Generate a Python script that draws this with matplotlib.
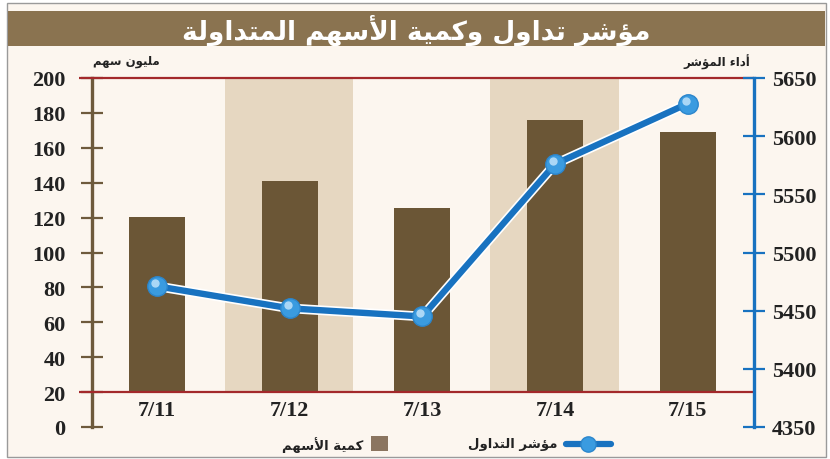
import numpy as np
import matplotlib.pyplot as plt
import matplotlib.patheffects as pe
import matplotlib.transforms as mtransforms
from matplotlib.patches import Rectangle
from matplotlib.lines import Line2D

# data
days = ['7/11', '7/12', '7/13', '7/14', '7/15']
volume = [120.5, 141, 125.5, 176, 169]          # million shares (left axis)
index_val = [5471, 5452, 5445, 5576, 5628]      # index level (right axis)
left_ticks = [0, 20, 40, 60, 80, 100, 120, 140, 160, 180, 200]
right_ticks = [5350, 5400, 5450, 5500, 5550, 5600, 5650]
right_labels = ['4350', '5400', '5450', '5500', '5550', '5600', '5650']

title = 'مؤشر تداول وكمية الأسهم المتداولة'
left_unit = 'مليون سهم'
right_unit = 'أداء المؤشر'
leg_line = 'مؤشر التداول'
leg_bar = 'كمية الأسهم'

# minimal arabic shaping (matplotlib has no text shaping)
FORMS = {
    'ا': ('\uFE8D', '\uFE8E', None, None),
    'أ': ('\uFE83', '\uFE84', None, None),
    'ؤ': ('\uFE85', '\uFE86', None, None),
    'ء': ('\uFE80', None, None, None),
    'ت': ('\uFE95', '\uFE96', '\uFE97', '\uFE98'),
    'ة': ('\uFE93', '\uFE94', None, None),
    'د': ('\uFEA9', '\uFEAA', None, None),
    'ر': ('\uFEAD', '\uFEAE', None, None),
    'س': ('\uFEB1', '\uFEB2', '\uFEB3', '\uFEB4'),
    'ش': ('\uFEB5', '\uFEB6', '\uFEB7', '\uFEB8'),
    'ك': ('\uFED9', '\uFEDA', '\uFEDB', '\uFEDC'),
    'ل': ('\uFEDD', '\uFEDE', '\uFEDF', '\uFEE0'),
    'م': ('\uFEE1', '\uFEE2', '\uFEE3', '\uFEE4'),
    'ن': ('\uFEE5', '\uFEE6', '\uFEE7', '\uFEE8'),
    'ه': ('\uFEE9', '\uFEEA', '\uFEEB', '\uFEEC'),
    'و': ('\uFEED', '\uFEEE', None, None),
    'ي': ('\uFEF1', '\uFEF2', '\uFEF3', '\uFEF4'),
}
LAMALEF = {'ا': ('\uFEFB', '\uFEFC'), 'أ': ('\uFEF7', '\uFEF8')}


def dual(c):
    return c in FORMS and FORMS[c][2] is not None


def joining(c):
    return c in FORMS and FORMS[c][1] is not None


def shape(s):
    out = []
    i = 0
    while i < len(s):
        c = s[i]
        prev = s[i - 1] if i > 0 else ''
        nxt = s[i + 1] if i + 1 < len(s) else ''
        if c not in FORMS:
            out.append(c)
            i += 1
            continue
        jp = dual(prev) and joining(c)
        if c == 'ل' and nxt in LAMALEF:
            out.append(LAMALEF[nxt][1 if jp else 0])
            i += 2
            continue
        jn = dual(c) and joining(nxt)
        f = FORMS[c]
        if jp and jn:
            out.append(f[3])
        elif jp:
            out.append(f[1])
        elif jn:
            out.append(f[2])
        else:
            out.append(f[0])
        i += 1
    return ''.join(out)[::-1]


W, H = 830, 460
fig = plt.figure(figsize=(W / 100, H / 100), dpi=100, facecolor='white')


def fx(px):
    return px / W


def fy(py):
    return 1 - py / H


ar_font = 'DejaVu Sans'
num_font = 'Liberation Serif'
bar_c = '#6b5636'
shade_c = '#e6d7c1'
bg_c = '#fcf6ef'
red_c = '#a3292b'
brown_ax = '#6e5a3c'
blue_c = '#1872c0'

fig.patches.append(Rectangle((fx(7), fy(458)), fx(826) - fx(7), fy(4) - fy(458),
                             transform=fig.transFigure, facecolor=bg_c,
                             edgecolor='#9a9a9a', lw=1, zorder=-10))
fig.patches.append(Rectangle((fx(8), fy(47)), fx(825) - fx(8), fy(12) - fy(47),
                             transform=fig.transFigure, facecolor='#8a7350',
                             edgecolor='none', zorder=-9))
fig.text(fx(416), fy(30), shape(title), color='white', fontsize=19, fontweight='bold',
         family=ar_font, ha='center', va='center')

ax = fig.add_axes([fx(92), fy(428), fx(754) - fx(92), fy(79) - fy(428)])
ax.set_facecolor('none')
x = np.arange(len(days))
ax.set_xlim(-0.49, 4.5)
ax.set_ylim(0, 200)

# alternate shaded columns
for i in x:
    if i % 2 == 1:
        ax.fill_between([i - 0.49, i + 0.48], 20, 200, color=shade_c, lw=0, zorder=0)

ax.bar(x, np.array(volume) - 20, bottom=20, width=0.42, color=bar_c, zorder=2)
ax.hlines([20, 200], -0.59, 4.5, color=red_c, lw=1.6, zorder=3, clip_on=False)

for i, d in zip(x, days):
    ax.text(i, 9.5, d, ha='center', va='center', fontsize=16, fontweight='bold',
            family=num_font, color='#222222')

for s in ['top', 'bottom', 'right']:
    ax.spines[s].set_visible(False)
ax.spines['left'].set_color(brown_ax)
ax.spines['left'].set_linewidth(2.4)
ax.set_xticks([])
ax.set_yticks(left_ticks)
ax.set_yticklabels([str(t) for t in left_ticks])
ax.tick_params(axis='y', direction='inout', length=16, width=1.6, color=brown_ax, pad=11,
               labelsize=16, labelcolor='#222222')
for lb in ax.get_yticklabels():
    lb.set_family(num_font)
    lb.set_fontweight('bold')

ax2 = ax.twinx()
ax2.set_ylim(5350, 5650)
for s in ['top', 'bottom', 'left']:
    ax2.spines[s].set_visible(False)
ax2.spines['right'].set_color(blue_c)
ax2.spines['right'].set_linewidth(2.4)
ax2.set_yticks(right_ticks)
ax2.set_yticklabels(right_labels)
ax2.tick_params(axis='y', direction='inout', length=16, width=1.6, color=blue_c, pad=5,
                labelsize=16, labelcolor='#222222')
for lb in ax2.get_yticklabels():
    lb.set_family(num_font)
    lb.set_fontweight('bold')

ax2.plot(x, index_val, color=blue_c, lw=4.6, zorder=5, solid_capstyle='round',
         path_effects=[pe.Stroke(linewidth=7, foreground='white'), pe.Normal()])
ax2.plot(x, index_val, 'o', ms=14, mfc='#3a9be0', mec='#2c86cc', mew=1, zorder=6)
hl = mtransforms.offset_copy(ax2.transData, fig=fig, x=-1.5, y=2.2, units='points')
ax2.plot(x, index_val, 'o', ms=6, mfc='#bfe2fa', mec='none', zorder=7, alpha=0.85,
         transform=hl)

fig.text(fx(160), fy(62), shape(left_unit), fontsize=8.5, fontweight='bold',
         family=ar_font, ha='right', va='center', color='#222222')
fig.text(fx(750), fy(62), shape(right_unit), fontsize=8.5, fontweight='bold',
         family=ar_font, ha='right', va='center', color='#222222')

# legend
fig.lines.append(Line2D([fx(566), fx(611)], [fy(445), fy(445)], transform=fig.transFigure,
                        color=blue_c, lw=4.5, solid_capstyle='round'))
fig.lines.append(Line2D([fx(588)], [fy(445)], transform=fig.transFigure, marker='o',
                        ms=11, mfc='#3a9be0', mec='#2c86cc', lw=0))
fig.text(fx(557), fy(445), shape(leg_line), fontsize=9.5, fontweight='bold',
         family=ar_font, ha='right', va='center', color='#222222')
fig.patches.append(Rectangle((fx(371), fy(452)), fx(388) - fx(371), fy(437) - fy(452),
                             transform=fig.transFigure, facecolor='#8b7560',
                             edgecolor='none'))
fig.text(fx(363), fy(445), shape(leg_bar), fontsize=9.5, fontweight='bold',
         family=ar_font, ha='right', va='center', color='#222222')

fig.savefig('out.png', dpi=100, facecolor='white')
